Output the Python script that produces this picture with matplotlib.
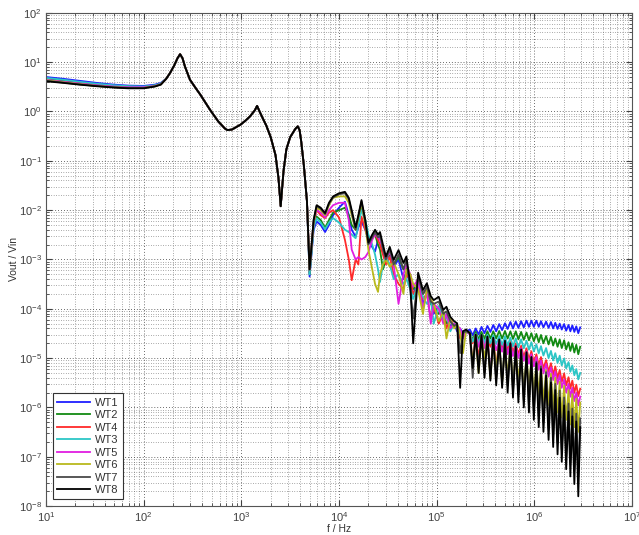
import matplotlib
matplotlib.use("Agg")
import matplotlib.pyplot as plt
from matplotlib.ticker import LogLocator, NullFormatter, FixedLocator, LogFormatterSciNotation

plt.rcParams["font.family"] = ["Liberation Sans", "DejaVu Sans"]
plt.rcParams["mathtext.fontset"] = "custom"
plt.rcParams["mathtext.rm"] = "Liberation Sans"
plt.rcParams["mathtext.it"] = "Liberation Sans:italic"
plt.rcParams["mathtext.bf"] = "Liberation Sans:bold"

# ---------------- data ----------------
labels = ["WT1", "WT2", "WT4", "WT3", "WT5", "WT6", "WT7", "WT8"]
colors = ["#1f1fff", "#128a12", "#ff2a2a", "#2cc6c6", "#e01ee0", "#b9b91c", "#4a4a4a", "#000000"]

x_major = [1e1, 1e2, 1e3, 1e4, 1e5, 1e6, 1e7]
y_major = [1e-8, 1e-7, 1e-6, 1e-5, 1e-4, 1e-3, 1e-2, 1e-1, 1e0, 1e1, 1e2]

# low-frequency start (per series)
f_head = [10, 15, 22, 33, 50, 70, 100, 130, 150]
head = {
    "WT1": [5.0, 4.6, 4.2, 3.8, 3.5, 3.35, 3.3, 3.5, 3.8],
    "WT2": [4.6, 4.2, 3.85, 3.55, 3.3, 3.2, 3.15, 3.35, 3.65],
    "WT4": [4.3, 3.95, 3.65, 3.35, 3.15, 3.05, 3.05, 3.3, 3.6],
    "WT3": [4.8, 4.4, 4.0, 3.65, 3.4, 3.25, 3.2, 3.4, 3.7],
    "WT5": [4.4, 4.0, 3.7, 3.4, 3.2, 3.1, 3.1, 3.3, 3.6],
    "WT6": [4.3, 3.9, 3.6, 3.3, 3.1, 3.0, 3.0, 3.25, 3.55],
    "WT7": [4.2, 3.85, 3.55, 3.3, 3.1, 3.0, 3.0, 3.25, 3.55],
    "WT8": [4.1, 3.8, 3.5, 3.25, 3.05, 2.95, 2.95, 3.2, 3.5],
}

# common part, 170 Hz .. 4.7 kHz
f_low = [170, 186, 205, 222, 236, 250, 265, 298, 340, 380, 430, 480, 580, 680, 720,
         800, 980, 1100, 1230, 1380, 1450, 1520, 1620, 1800, 2000, 2240, 2400, 2530,
         2700, 2890, 3160, 3560, 3780, 3950, 4100, 4370, 4700]
low_common = [4.6, 6.0, 8.5, 12.0, 14.5, 12.0, 8.1, 4.4, 3.0, 2.2, 1.5, 1.07, 0.63, 0.45, 0.42,
              0.43, 0.54, 0.65, 0.80, 1.07, 1.3, 1.05, 0.80, 0.52, 0.30, 0.13, 0.045, 0.012,
              0.06, 0.17, 0.30, 0.44, 0.50, 0.42, 0.25, 0.08, 0.015]

# middle part, 5 kHz .. 200 kHz (per series)
f_mid = [5.0e3, 5.5e3, 5.9e3, 6.5e3, 7.2e3, 7.9e3, 8.7e3, 1.0e4, 1.15e4, 1.26e4, 1.35e4,
         1.48e4, 1.58e4, 1.70e4, 1.86e4, 2.0e4, 2.19e4, 2.34e4, 2.51e4, 2.63e4, 2.82e4,
         3.02e4, 3.31e4, 3.63e4, 4.07e4, 4.57e4, 4.90e4, 5.37e4, 5.75e4, 6.46e4, 7.24e4,
         7.94e4, 8.71e4, 9.33e4, 1.05e5, 1.17e5, 1.26e5, 1.38e5, 1.51e5, 1.62e5, 1.74e5,
         1.86e5, 2.0e5]
mid = {
    "WT1": [4.5e-4, 4.0e-3, 5.9e-3, 5.0e-3, 3.6e-3, 5.0e-3, 7.9e-3, 1.12e-2, 1.48e-2, 7.9e-3,
            4.0e-3, 2.9e-3, 4.5e-3, 5.9e-3, 4.0e-3, 2.5e-3, 1.78e-3, 1.45e-3, 2.5e-3, 2.8e-3,
            1.58e-3, 1.0e-3, 1.26e-3, 7.1e-4, 1.0e-3, 4.0e-4, 5.6e-4, 3.2e-4, 2.0e-4, 3.5e-4,
            1.26e-4, 2.0e-4, 1.41e-4, 7.9e-5, 1.12e-4, 6.3e-5, 7.1e-5, 4.5e-5, 5.0e-5, 3.5e-5,
            4.0e-5, 3.2e-5, 3.5e-5],
    "WT2": [5.0e-4, 5.0e-3, 7.4e-3, 6.3e-3, 4.4e-3, 6.3e-3, 8.9e-3, 1.0e-2, 1.12e-2, 7.9e-3,
            5.0e-3, 4.0e-3, 6.3e-3, 1.12e-2, 6.3e-3, 2.5e-3, 2.8e-3, 3.2e-3, 2.0e-3, 1.58e-3,
            6.3e-4, 1.0e-3, 1.26e-3, 7.9e-4, 1.12e-3, 6.3e-4, 7.1e-4, 4.0e-4, 2.5e-4, 3.2e-4,
            2.0e-4, 2.5e-4, 1.26e-4, 1.12e-4, 7.9e-5, 8.9e-5, 5.0e-5, 5.6e-5, 4.5e-5, 4.0e-5,
            3.5e-5, 3.2e-5, 3.5e-5],
    "WT4": [5.6e-4, 5.6e-3, 1.0e-2, 7.9e-3, 6.9e-3, 8.9e-3, 1.0e-2, 7.1e-3, 2.5e-3, 1.0e-3,
            3.8e-4, 1.0e-3, 7.9e-4, 7.4e-3, 4.0e-3, 2.5e-3, 2.8e-3, 3.2e-3, 2.5e-3, 2.0e-3,
            1.26e-3, 7.9e-4, 1.12e-3, 5.0e-4, 3.2e-4, 2.5e-4, 5.0e-4, 4.0e-4, 2.0e-4, 2.8e-4,
            1.58e-4, 2.0e-4, 6.3e-5, 1.12e-4, 5.0e-5, 7.9e-5, 4.0e-5, 6.3e-5, 4.5e-5, 4.0e-5,
            2.5e-5, 3.5e-5, 3.5e-5],
    "WT3": [5.0e-4, 4.5e-3, 6.8e-3, 5.6e-3, 4.1e-3, 5.6e-3, 6.9e-3, 5.6e-3, 4.0e-3, 3.6e-3,
            3.2e-3, 2.7e-3, 5.0e-3, 1.0e-2, 6.3e-3, 3.2e-3, 2.0e-3, 1.26e-3, 6.3e-4, 3.5e-4,
            7.9e-4, 1.12e-3, 7.9e-4, 4.0e-4, 5.0e-4, 3.2e-4, 4.0e-4, 2.5e-4, 1.58e-4, 3.2e-4,
            1.78e-4, 1.26e-4, 1.58e-4, 5.0e-5, 1.12e-4, 6.3e-5, 7.9e-5, 3.5e-5, 5.0e-5, 4.0e-5,
            3.2e-5, 3.5e-5, 3.2e-5],
    "WT5": [6.3e-4, 5.6e-3, 1.0e-2, 8.9e-3, 7.1e-3, 1.0e-2, 1.26e-2, 1.41e-2, 1.41e-2, 6.3e-3,
            1.58e-3, 1.0e-3, 1.12e-3, 1.0e-3, 1.12e-3, 1.41e-3, 2.5e-3, 3.2e-3, 2.8e-3, 2.5e-3,
            1.78e-3, 1.0e-3, 1.41e-3, 7.9e-4, 1.26e-4, 5.0e-4, 7.9e-4, 5.0e-4, 2.8e-4, 4.0e-4,
            1.0e-4, 2.5e-4, 5.0e-5, 1.26e-4, 1.0e-4, 5.0e-5, 7.9e-5, 4.0e-5, 5.0e-5, 4.5e-5,
            4.0e-5, 2.5e-5, 3.5e-5],
    "WT6": [6.3e-4, 5.6e-3, 1.12e-2, 1.0e-2, 7.9e-3, 1.26e-2, 1.78e-2, 1.9e-2, 1.9e-2, 1.41e-2,
            7.9e-3, 4.0e-3, 7.1e-3, 1.41e-2, 5.0e-3, 1.58e-3, 6.3e-4, 3.2e-4, 2.2e-4, 5.0e-4,
            7.9e-4, 1.0e-3, 7.1e-4, 8.9e-4, 5.0e-4, 2.0e-4, 6.3e-4, 5.0e-4, 3.2e-4, 2.5e-4,
            7.9e-5, 2.5e-4, 1.58e-4, 1.26e-4, 5.6e-5, 8.9e-5, 2.5e-5, 6.3e-5, 4.0e-5, 5.0e-5,
            3.2e-5, 1.26e-5, 3.5e-5],
    "WT7": [6.3e-4, 6.3e-3, 1.2e-2, 1.07e-2, 8.3e-3, 1.35e-2, 1.8e-2, 2.1e-2, 2.2e-2, 1.66e-2,
            8.9e-3, 4.0e-3, 7.6e-3, 1.5e-2, 5.6e-3, 2.0e-3, 2.8e-3, 3.5e-3, 2.8e-3, 3.2e-3,
            1.6e-3, 1.0e-3, 1.6e-3, 7.9e-4, 1.26e-3, 6.3e-4, 1.0e-3, 2.5e-4, 6.3e-5, 4.5e-4,
            2.0e-4, 2.8e-4, 1.4e-4, 1.26e-4, 1.4e-4, 7.9e-5, 8.9e-5, 5.6e-5, 4.5e-5, 5.0e-5,
            1.26e-5, 3.2e-5, 3.5e-5],
    "WT8": [6.3e-4, 6.3e-3, 1.26e-2, 1.12e-2, 8.7e-3, 1.41e-2, 1.9e-2, 2.2e-2, 2.35e-2, 1.78e-2,
            1.0e-2, 4.5e-3, 7.9e-3, 1.6e-2, 6.3e-3, 2.2e-3, 3.2e-3, 4.0e-3, 3.2e-3, 3.6e-3,
            2.0e-3, 1.15e-3, 1.8e-3, 9.8e-4, 1.55e-3, 8.5e-4, 1.15e-3, 3.2e-4, 2.0e-5, 5.4e-4,
            2.4e-4, 3.3e-4, 1.8e-4, 1.5e-4, 1.75e-4, 9.5e-5, 1.1e-4, 6.9e-5, 5.6e-5, 5.1e-5,
            2.5e-6, 3.5e-5, 3.8e-5],
}

# high part, 219 kHz .. 2.95 MHz: alternating peaks / troughs of the ripple
f_hi = [2.19e5, 2.34e5, 2.51e5, 2.69e5, 2.88e5, 3.09e5, 3.31e5, 3.55e5, 3.80e5, 4.07e5,
        4.37e5, 4.68e5, 5.01e5, 5.33e5, 5.69e5, 6.05e5, 6.46e5, 6.87e5, 7.33e5, 7.80e5,
        8.32e5, 8.81e5, 9.33e5, 9.89e5, 1.05e6, 1.11e6, 1.17e6, 1.24e6, 1.32e6, 1.40e6,
        1.48e6, 1.56e6, 1.64e6, 1.73e6, 1.82e6, 1.91e6, 2.02e6, 2.12e6, 2.24e6, 2.34e6,
        2.45e6, 2.57e6, 2.69e6, 2.82e6, 2.95e6]
hi = {
    "WT1": [3.8e-5, 2.9e-5, 4.0e-5, 3.0e-5, 4.3e-5, 3.2e-5, 4.5e-5, 3.4e-5, 4.7e-5, 3.5e-5,
            4.9e-5, 3.7e-5, 5.1e-5, 3.9e-5, 5.4e-5, 4.0e-5, 5.5e-5, 4.1e-5, 5.6e-5, 4.2e-5,
            5.75e-5, 4.3e-5, 5.75e-5, 4.3e-5, 5.75e-5, 4.3e-5, 5.6e-5, 4.2e-5, 5.5e-5, 4.1e-5,
            5.4e-5, 4.0e-5, 5.2e-5, 3.9e-5, 5.0e-5, 3.8e-5, 4.9e-5, 3.6e-5, 4.7e-5, 3.5e-5,
            4.6e-5, 3.4e-5, 4.4e-5, 3.2e-5, 4.2e-5],
    "WT2": [3.3e-5, 2.35e-5, 3.4e-5, 2.4e-5, 3.4e-5, 2.45e-5, 3.5e-5, 2.5e-5, 3.5e-5, 2.5e-5,
            3.55e-5, 2.5e-5, 3.55e-5, 2.5e-5, 3.5e-5, 2.45e-5, 3.5e-5, 2.4e-5, 3.4e-5, 2.35e-5,
            3.3e-5, 2.3e-5, 3.2e-5, 2.2e-5, 3.1e-5, 2.1e-5, 2.95e-5, 2.0e-5, 2.8e-5, 1.9e-5,
            2.7e-5, 1.8e-5, 2.5e-5, 1.7e-5, 2.4e-5, 1.6e-5, 2.3e-5, 1.5e-5, 2.1e-5, 1.4e-5,
            2.0e-5, 1.3e-5, 1.86e-5, 1.2e-5, 1.7e-5],
    "WT4": [3.2e-5, 2.0e-5, 3.0e-5, 1.0e-5, 2.9e-5, 1.8e-5, 2.75e-5, 1.7e-5, 2.6e-5, 6.0e-6,
            2.5e-5, 1.55e-5, 2.4e-5, 1.45e-5, 2.2e-5, 1.3e-5, 2.0e-5, 1.2e-5, 1.78e-5, 1.05e-5,
            1.58e-5, 9.3e-6, 1.38e-5, 8.1e-6, 1.2e-5, 7.1e-6, 1.05e-5, 6.2e-6, 9.1e-6, 5.3e-6,
            7.9e-6, 4.6e-6, 6.8e-6, 3.9e-6, 5.75e-6, 3.3e-6, 4.9e-6, 2.8e-6, 4.1e-6, 2.4e-6,
            3.5e-6, 2.0e-6, 2.9e-6, 1.7e-6, 2.4e-6],
    "WT3": [3.2e-5, 2.15e-5, 3.1e-5, 2.08e-5, 3.0e-5, 2.03e-5, 2.95e-5, 1.98e-5, 2.9e-5, 1.93e-5,
            2.8e-5, 1.85e-5, 2.75e-5, 1.8e-5, 2.6e-5, 1.73e-5, 2.5e-5, 1.66e-5, 2.4e-5, 1.58e-5,
            2.25e-5, 1.48e-5, 2.1e-5, 1.37e-5, 1.9e-5, 1.25e-5, 1.75e-5, 1.13e-5, 1.6e-5, 1.0e-5,
            1.4e-5, 9.0e-6, 1.26e-5, 8.0e-6, 1.12e-5, 7.1e-6, 9.8e-6, 6.2e-6, 8.3e-6, 5.3e-6,
            7.1e-6, 4.5e-6, 6.0e-6, 3.7e-6, 5.0e-6],
    "WT5": [3.0e-5, 8.0e-6, 2.9e-5, 1.7e-5, 2.75e-5, 1.6e-5, 2.6e-5, 5.0e-6, 2.45e-5, 1.45e-5,
            2.3e-5, 1.35e-5, 2.15e-5, 1.2e-5, 1.95e-5, 1.1e-5, 1.78e-5, 1.0e-5, 1.58e-5, 8.8e-6,
            1.38e-5, 7.7e-6, 1.2e-5, 6.8e-6, 1.05e-5, 5.8e-6, 8.9e-6, 4.9e-6, 7.6e-6, 4.2e-6,
            6.5e-6, 3.6e-6, 5.4e-6, 3.0e-6, 4.5e-6, 2.5e-6, 3.7e-6, 2.0e-6, 3.0e-6, 1.65e-6,
            2.5e-6, 1.35e-6, 2.0e-6, 1.1e-6, 1.66e-6],
    "WT6": [3.2e-5, 7.9e-6, 2.95e-5, 5.0e-6, 2.7e-5, 1.0e-5, 2.45e-5, 4.0e-6, 2.25e-5, 6.3e-6,
            2.05e-5, 3.2e-6, 1.8e-5, 4.5e-6, 1.58e-5, 2.8e-6, 1.38e-5, 3.5e-6, 1.2e-5, 2.2e-6,
            1.05e-5, 2.5e-6, 9.1e-6, 1.78e-6, 7.9e-6, 1.78e-6, 6.8e-6, 1.26e-6, 5.75e-6, 1.12e-6,
            4.8e-6, 8.9e-7, 4.0e-6, 7.9e-7, 3.3e-6, 6.3e-7, 2.75e-6, 5.6e-7, 2.25e-6, 4.5e-7,
            1.86e-6, 4.0e-7, 1.5e-6, 3.2e-7, 1.26e-6],
    "WT7": [3.2e-5, 4.0e-6, 3.0e-5, 7.0e-6, 2.9e-5, 5.0e-6, 2.7e-5, 4.5e-6, 2.5e-5, 3.8e-6,
            2.3e-5, 3.3e-6, 2.1e-5, 2.8e-6, 1.9e-5, 2.2e-6, 1.66e-5, 1.8e-6, 1.45e-5, 1.4e-6,
            1.26e-5, 1.1e-6, 1.05e-5, 8.5e-7, 8.5e-6, 6.5e-7, 6.8e-6, 5.0e-7, 5.2e-6, 3.6e-7,
            4.0e-6, 2.6e-7, 3.0e-6, 1.9e-7, 2.2e-6, 1.4e-7, 1.6e-6, 1.0e-7, 1.2e-6, 7.5e-8,
            9.5e-7, 5.5e-8, 7.5e-7, 4.0e-8, 6.0e-7],
    "WT8": [3.2e-5, 6.3e-6, 3.0e-5, 5.0e-6, 2.95e-5, 4.0e-6, 2.75e-5, 3.5e-6, 2.6e-5, 2.8e-6,
            2.4e-5, 2.5e-6, 2.25e-5, 2.0e-6, 2.0e-5, 1.58e-6, 1.74e-5, 1.26e-6, 1.5e-5, 1.0e-6,
            1.32e-5, 7.9e-7, 1.05e-5, 5.6e-7, 7.9e-6, 4.0e-7, 6.0e-6, 3.2e-7, 4.4e-6, 2.2e-7,
            3.2e-6, 1.58e-7, 2.25e-6, 1.12e-7, 1.58e-6, 7.9e-8, 1.1e-6, 5.6e-8, 8.3e-7, 4.0e-8,
            6.6e-7, 2.8e-8, 5.2e-7, 1.58e-8, 4.0e-7],
}

x_label = "f / Hz"
y_label = "Vout / Vin"

# ---------------- figure ----------------
fig = plt.figure(figsize=(6.39, 5.35), dpi=100)
ax = fig.add_axes([0.072, 0.054, 0.917, 0.922])

freq = f_head + f_low + f_mid + f_hi
for name, col in zip(labels, colors):
    vals = head[name] + low_common + mid[name] + hi[name]
    ax.plot(freq, vals, color=col, lw=1.3, label=name, solid_joinstyle="round")

ax.set_xscale("log")
ax.set_yscale("log")
ax.set_xlim(1e1, 1e7)
ax.set_ylim(1e-8, 1e2)

ax.xaxis.set_major_locator(FixedLocator(x_major))
ax.yaxis.set_major_locator(FixedLocator(y_major))
ax.xaxis.set_major_formatter(LogFormatterSciNotation())
ax.yaxis.set_major_formatter(LogFormatterSciNotation())
ax.xaxis.set_minor_locator(LogLocator(base=10, subs=range(2, 10), numticks=100))
ax.yaxis.set_minor_locator(LogLocator(base=10, subs=range(2, 10), numticks=100))
ax.xaxis.set_minor_formatter(NullFormatter())
ax.yaxis.set_minor_formatter(NullFormatter())

ax.grid(True, which="major", color="#3a3a3a", lw=0.6, linestyle=(0, (1, 2.5)))
ax.grid(True, which="minor", color="#5a5a5a", lw=0.5, linestyle=(0, (1, 2.5)))
ax.set_axisbelow(True)

ax.tick_params(which="both", direction="in", top=True, right=True,
               labelsize=8, labelcolor="#404040", colors="#404040", pad=3)
ax.tick_params(which="major", length=4)
ax.tick_params(which="minor", length=2)
for sp in ax.spines.values():
    sp.set_color("#555555")
    sp.set_linewidth(0.8)

ax.set_xlabel(x_label, fontsize=7.5, color="#333333", labelpad=0)
ax.set_ylabel(y_label, fontsize=7.5, color="#333333", labelpad=0)

leg = ax.legend(loc="lower left", fontsize=8, frameon=True, fancybox=False,
                framealpha=1, edgecolor="#333333", handlelength=3.0,
                borderaxespad=0.6, labelspacing=0.22, handletextpad=0.4,
                borderpad=0.4)
leg.get_frame().set_linewidth(0.8)
for t in leg.get_texts():
    t.set_color("#333333")

fig.savefig("out.png", dpi=100)
